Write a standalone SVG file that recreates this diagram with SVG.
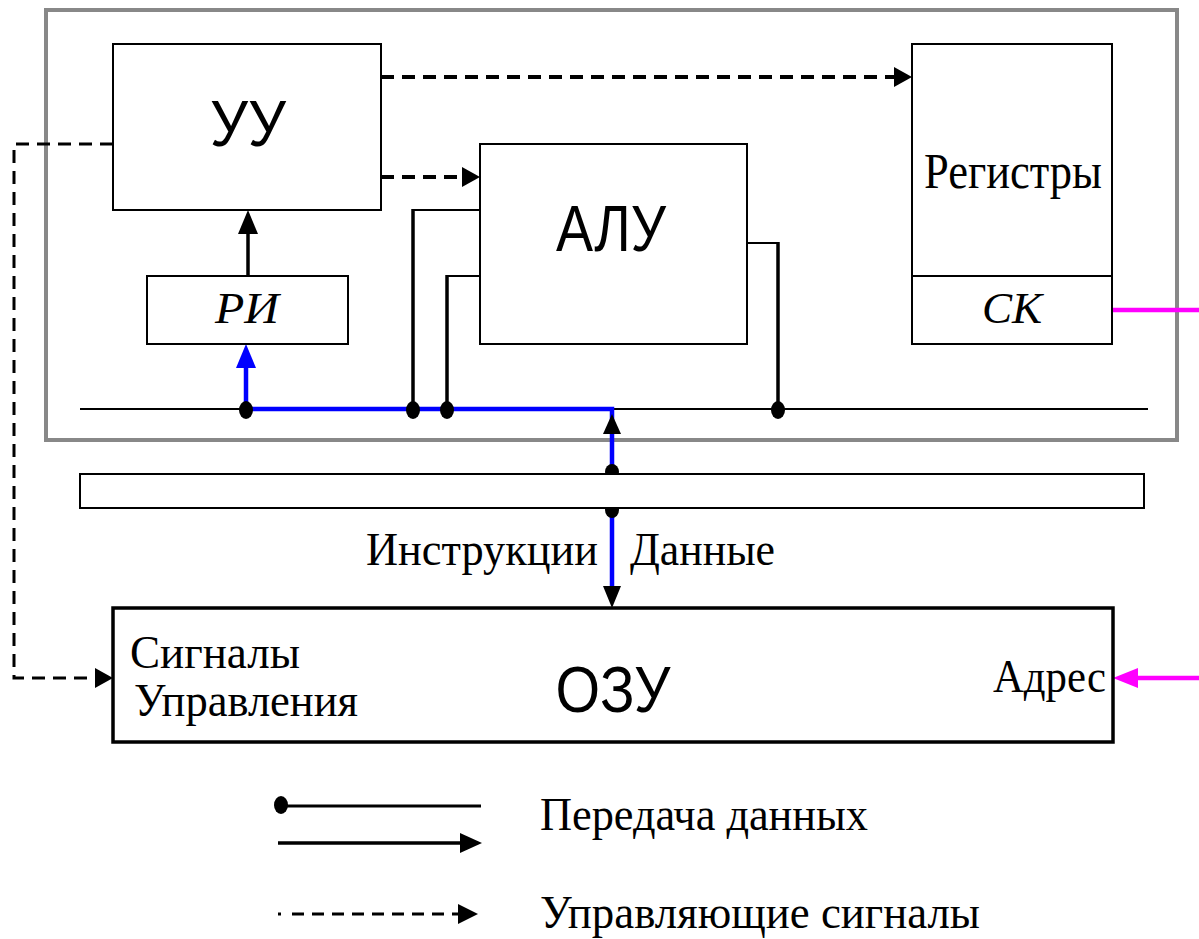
<svg xmlns="http://www.w3.org/2000/svg" width="1199" height="939" viewBox="0 0 1199 939">
<style>
.box{fill:#fff;stroke:#000;stroke-width:2}
.sans{font-family:"Liberation Sans",Arial,sans-serif;fill:#000}
.serif{font-family:"Liberation Serif","Times New Roman",serif;fill:#000}
.dash{fill:none;stroke:#000;stroke-width:4;stroke-dasharray:13 8}
.blue{fill:none;stroke:#0000ff;stroke-width:4.5}
.mag{fill:none;stroke:#ff00ff;stroke-width:4.5}
.dot{fill:#000}
.thin{fill:none;stroke:#000;stroke-width:2}
.thick{fill:none;stroke:#000;stroke-width:3.5}
</style>
<rect width="1199" height="939" fill="#fff"/>
<rect id="cpu-frame" x="46" y="10" width="1131" height="430" fill="none" stroke="#888" stroke-width="4"/>

<g id="connectors">
  <line class="thin" x1="80" y1="409" x2="1148" y2="409"/>
  <line class="thin" x1="480" y1="210" x2="413" y2="210"/>
  <line class="thick" x1="413" y1="209" x2="413" y2="409"/>
  <line class="thin" x1="480" y1="276" x2="447" y2="276"/>
  <line class="thick" x1="447" y1="275" x2="447" y2="409"/>
  <line class="thin" x1="747" y1="243" x2="778" y2="243"/>
  <line class="thick" x1="778" y1="242" x2="778" y2="409"/>
  <line class="thick" x1="248" y1="276" x2="248" y2="232"/>
  <path d="M248,210 L238,234 L258,234 z" fill="#000"/>
  <line class="dash" x1="381" y1="77" x2="896" y2="77"/>
  <path d="M912,77 L894,67 L894,87 z" fill="#000"/>
  <line class="dash" x1="381" y1="177" x2="464" y2="177"/>
  <path d="M480,177 L462,167 L462,187 z" fill="#000"/>
  <polyline class="dash" points="113,144 14,144 14,678 96,678" style="stroke-width:3"/>
  <path d="M113,678 L95,668 L95,688 z" fill="#000"/>
  <polyline class="blue" points="246,409 612,409 612,590"/>
  <line class="blue" x1="246" y1="409" x2="246" y2="364"/>
  <path d="M246,344 L236,368 L256,368 z" fill="#0000ff"/>
  <path d="M612,608 L603,586 L621,586 z" fill="#000"/>
  <path d="M612,414 L603,434 L621,434 z" fill="#000"/>
  <ellipse class="dot" cx="246" cy="410" rx="7" ry="9"/>
  <ellipse class="dot" cx="413" cy="410" rx="7" ry="9"/>
  <ellipse class="dot" cx="447" cy="410" rx="7" ry="9"/>
  <ellipse class="dot" cx="778" cy="410" rx="7" ry="9"/>
  <ellipse class="dot" cx="612" cy="472" rx="7" ry="8"/>
  <ellipse class="dot" cx="612" cy="510" rx="7" ry="8"/>
  <line class="mag" x1="1112" y1="310" x2="1199" y2="310"/>
  <line class="mag" x1="1134" y1="678" x2="1199" y2="678"/>
  <path d="M1113,678 L1138,668 L1138,688 z" fill="#ff00ff"/>
</g>

<g id="uu">
  <rect class="box" x="113" y="44" width="268" height="166"/>
  <text class="sans" x="248" y="146" font-size="64" text-anchor="middle" textLength="76" lengthAdjust="spacingAndGlyphs">УУ</text>
</g>
<g id="ri">
  <rect class="box" x="147" y="276" width="201" height="68"/>
  <text class="serif" x="247" y="323" font-size="44" font-style="italic" text-anchor="middle" textLength="64" lengthAdjust="spacingAndGlyphs">РИ</text>
</g>
<g id="alu">
  <rect class="box" x="480" y="144" width="267" height="200"/>
  <text class="sans" x="611" y="251" font-size="64" text-anchor="middle" textLength="110" lengthAdjust="spacingAndGlyphs">АЛУ</text>
</g>
<g id="registers">
  <rect class="box" x="912" y="44" width="200" height="300"/>
  <line class="thin" x1="912" y1="276" x2="1112" y2="276"/>
  <text class="serif" x="1013" y="188" font-size="50" text-anchor="middle" textLength="178" lengthAdjust="spacingAndGlyphs">Регистры</text>
  <text class="serif" x="1012" y="323" font-size="44" font-style="italic" text-anchor="middle" textLength="60" lengthAdjust="spacingAndGlyphs">СК</text>
</g>
<g id="bus-bar">
  <rect class="box" x="80" y="474" width="1064" height="34"/>
</g>
<g id="bus-labels">
  <text class="serif" x="366" y="565" font-size="46" textLength="232" lengthAdjust="spacingAndGlyphs">Инструкции</text>
  <text class="serif" x="630" y="565" font-size="46" textLength="145" lengthAdjust="spacingAndGlyphs">Данные</text>
</g>
<g id="ram">
  <rect x="113" y="608" width="1000" height="134" fill="#fff" stroke="#000" stroke-width="3.5"/>
  <text class="sans" x="613" y="712" font-size="64" text-anchor="middle" textLength="115" lengthAdjust="spacingAndGlyphs">ОЗУ</text>
  <text class="serif" x="130" y="668" font-size="46" textLength="170" lengthAdjust="spacingAndGlyphs">Сигналы</text>
  <text class="serif" x="134" y="716" font-size="46" textLength="224" lengthAdjust="spacingAndGlyphs">Управления</text>
  <text class="serif" x="993" y="692" font-size="46" textLength="113" lengthAdjust="spacingAndGlyphs">Адрес</text>
</g>
<g id="legend">
  <ellipse class="dot" cx="281" cy="805" rx="7" ry="9"/>
  <line x1="281" y1="806" x2="481" y2="806" stroke="#000" stroke-width="3"/>
  <line x1="278" y1="843" x2="462" y2="843" stroke="#000" stroke-width="3.5"/>
  <path d="M482,843 L460,833 L460,853 z" fill="#000"/>
  <line x1="278" y1="914" x2="281" y2="914" stroke="#000" stroke-width="3"/>
  <line x1="292" y1="914" x2="460" y2="914" stroke="#000" stroke-width="3" stroke-dasharray="12 8"/>
  <path d="M478,914 L458,904 L458,924 z" fill="#000"/>
  <text class="serif" x="540" y="830" font-size="46" textLength="328" lengthAdjust="spacingAndGlyphs">Передача данных</text>
  <text class="serif" x="540" y="928" font-size="46" textLength="440" lengthAdjust="spacingAndGlyphs">Управляющие сигналы</text>
</g>
</svg>
